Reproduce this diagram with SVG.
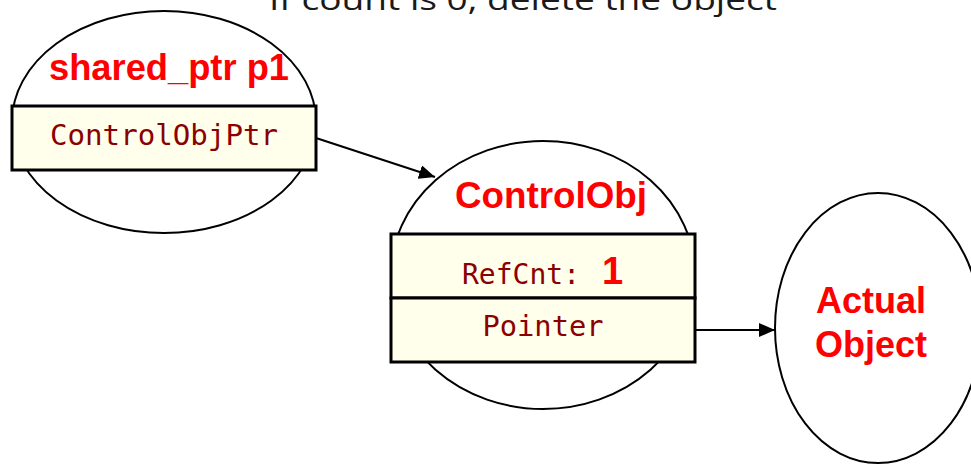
<svg xmlns="http://www.w3.org/2000/svg" width="971" height="464" viewBox="0 0 971 464">
<defs>
<style>
.oval{fill:#ffffff;stroke:#000;stroke-width:2}
.box{fill:#ffffeb;stroke:#000;stroke-width:3}
.title{font-family:"Liberation Sans",Arial,sans-serif;font-weight:bold;font-size:36px;fill:#ff0000;text-anchor:middle}
.mono{font-family:"DejaVu Sans Mono","Liberation Mono",monospace;font-size:28px;fill:#8b0000}
.conn{stroke:#000;stroke-width:2;fill:none}
.top{font-family:"Open Sans","Noto Sans",sans-serif;font-size:30px;fill:#1a1a1a}
</style>
<marker id="arr" viewBox="0 0 16 14" refX="16" refY="7" markerWidth="16" markerHeight="14" markerUnits="userSpaceOnUse" orient="auto">
<path d="M0,0 L16,7 L0,14 Z" fill="#000"/>
</marker>
</defs>
<rect width="971" height="464" fill="#ffffff"/>
<text class="top" x="269" y="10" textLength="508" lengthAdjust="spacingAndGlyphs">If count is 0, delete the object</text>
<g id="shared_ptr">
<ellipse class="oval" cx="164" cy="122" rx="152" ry="111"/>
<text class="title" x="169" y="80" textLength="240" lengthAdjust="spacingAndGlyphs">shared_ptr p1</text>
<rect class="box" x="12" y="106" width="304" height="64"/>
<text class="mono" x="164" y="145" text-anchor="middle" textLength="228" lengthAdjust="spacingAndGlyphs">ControlObjPtr</text>
</g>
<g id="controlobj">
<ellipse class="oval" cx="543" cy="275" rx="152" ry="134"/>
<text class="title" x="551" y="208" textLength="192" lengthAdjust="spacingAndGlyphs">ControlObj</text>
<rect class="box" x="391" y="234" width="304" height="64"/>
<rect class="box" x="391" y="298" width="304" height="64"/>
<text x="462" y="284"><tspan class="mono" textLength="118" lengthAdjust="spacingAndGlyphs">RefCnt:</tspan><tspan x="602" style="font-family:'Liberation Sans',Arial,sans-serif;font-weight:bold;font-size:38px;fill:#ff0000">1</tspan></text>
<text class="mono" x="543" y="336" text-anchor="middle" textLength="121" lengthAdjust="spacingAndGlyphs">Pointer</text>
</g>
<g id="actual">
<ellipse class="oval" cx="878" cy="328" rx="103" ry="135"/>
<text class="title" x="871" y="313">Actual</text>
<text class="title" x="871" y="357">Object</text>
</g>
<g id="connectors">
<line class="conn" x1="316" y1="138" x2="435" y2="177" marker-end="url(#arr)"/>
<line class="conn" x1="695" y1="330" x2="775" y2="330" marker-end="url(#arr)"/>
</g>
</svg>
